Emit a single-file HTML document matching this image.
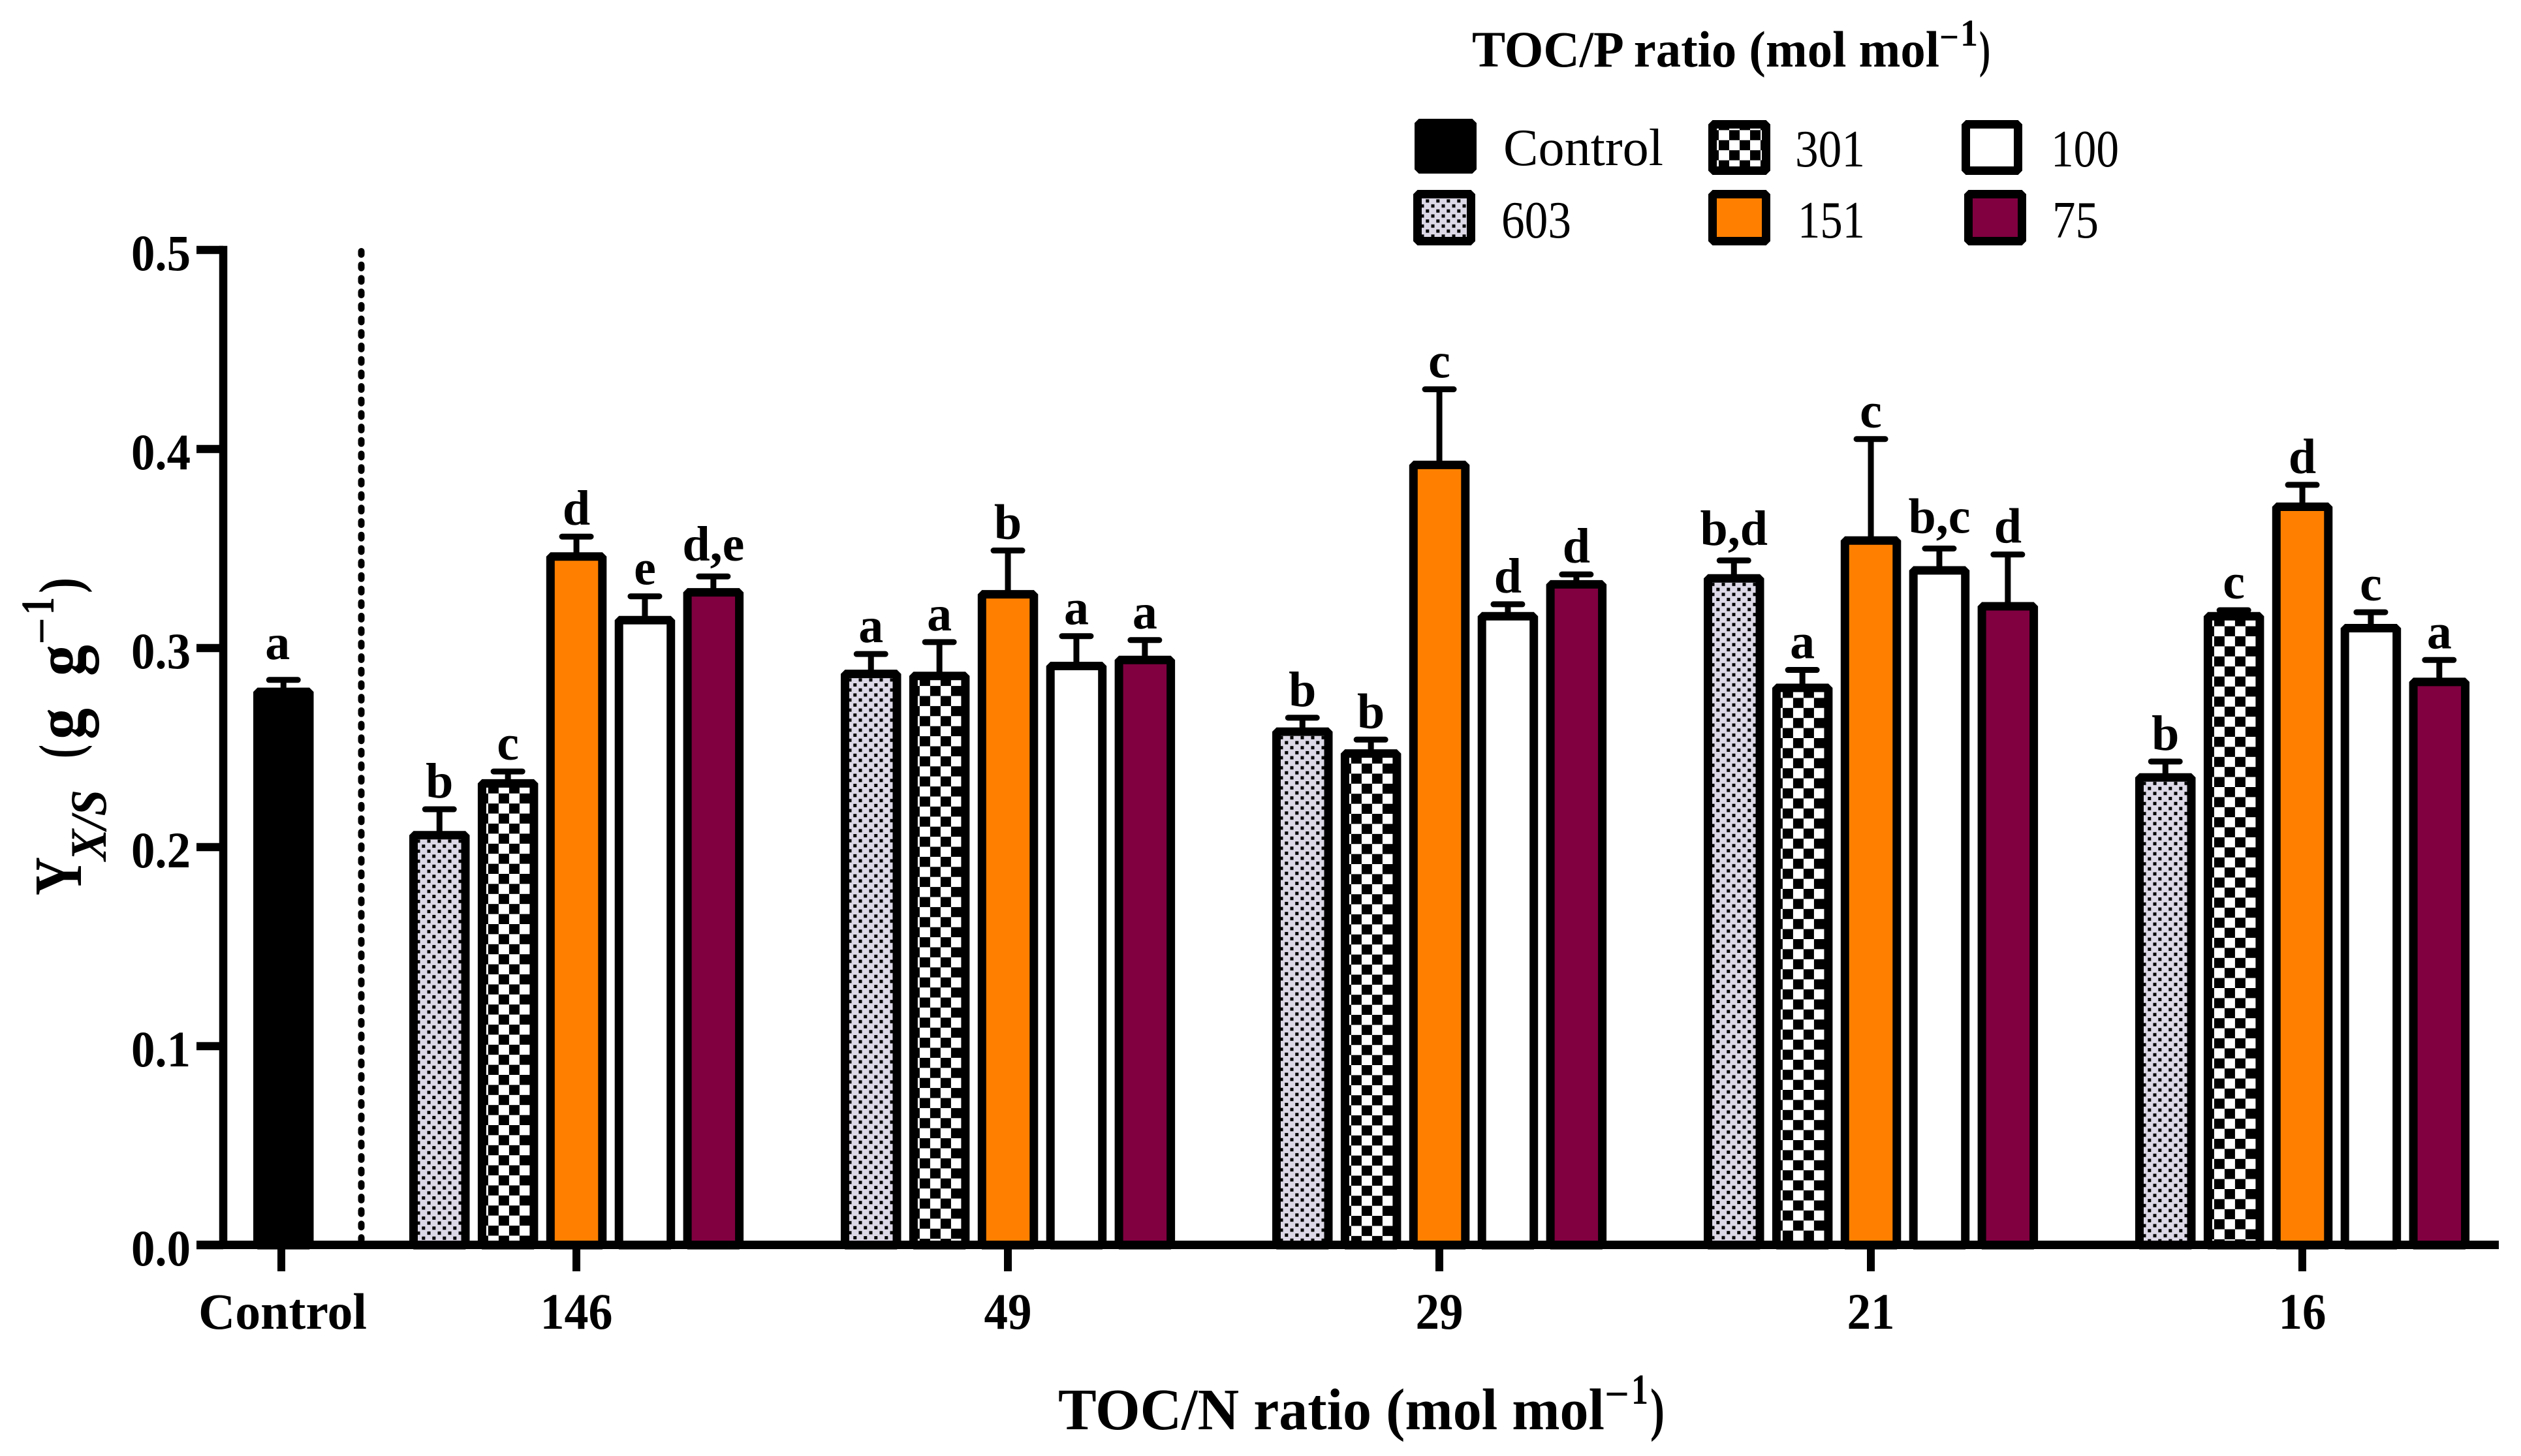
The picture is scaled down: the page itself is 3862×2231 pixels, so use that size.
<!DOCTYPE html>
<html lang="en">
<head>
<meta charset="utf-8">
<title>Biomass yield by TOC/N and TOC/P ratio</title>
<style>
html,body{margin:0;padding:0;background:#fff;width:3862px;height:2231px;overflow:hidden}
svg{display:block}
text{font-family:"Liberation Serif",serif;fill:#000}
.b{font-weight:700}
</style>
</head>
<body>
<svg id="chart" xmlns="http://www.w3.org/2000/svg" width="3862" height="2231" viewBox="0 0 3862 2231">
  <defs>
    <pattern id="dots" patternUnits="userSpaceOnUse" width="16" height="15.4">
      <rect width="16" height="15.4" fill="#DDD8E6"/>
      <rect x="11.5" y="6.7" width="5" height="5" fill="#000"/>
      <rect x="-4.5" y="6.7" width="5" height="5" fill="#000"/>
      <rect x="3.3" y="14.4" width="5" height="5" fill="#000"/>
      <rect x="3.3" y="-1" width="5" height="5" fill="#000"/>
    </pattern>
    <pattern id="checker" patternUnits="userSpaceOnUse" width="32" height="30.8">
      <rect width="32" height="30.8" fill="#fff"/>
      <rect x="16" y="0" width="16" height="15.4" fill="#000"/>
      <rect x="0" y="15.4" width="16" height="15.4" fill="#000"/>
    </pattern>
  </defs>

  <rect x="0" y="0" width="3862" height="2231" fill="#fff"/>

  <g id="plot"></g>

  <line x1="553.5" y1="385" x2="553.5" y2="1900" stroke="#000" stroke-width="10" stroke-linecap="round" stroke-dasharray="5 15.7"/>

  <g>
    <text class="b" x="1621" y="2190" font-size="90" textLength="837" lengthAdjust="spacingAndGlyphs">TOC/N ratio (mol mol</text>
    <text class="b" x="2458" y="2158" font-size="66" textLength="38" lengthAdjust="spacingAndGlyphs">−</text>
    <text class="b" x="2499" y="2151" font-size="66" textLength="26" lengthAdjust="spacingAndGlyphs">1</text>
    <text class="b" x="2528" y="2190" font-size="90" textLength="22" lengthAdjust="spacingAndGlyphs">)</text>
  </g>

  <g>
    <text class="b" transform="translate(124 1372) rotate(-90)" font-size="104" textLength="59" lengthAdjust="spacingAndGlyphs">Y</text>
    <text class="b" font-style="italic" transform="translate(162 1319) rotate(-90)" font-size="78" textLength="109" lengthAdjust="spacingAndGlyphs">X/S</text>
    <text class="b" transform="translate(122 1162) rotate(-90)" font-size="90" textLength="21" lengthAdjust="spacingAndGlyphs">(</text>
    <text class="b" transform="translate(128 1133) rotate(-90)" font-size="108" textLength="48" lengthAdjust="spacingAndGlyphs">g</text>
    <text class="b" transform="translate(128 1036) rotate(-90)" font-size="108" textLength="48" lengthAdjust="spacingAndGlyphs">g</text>
    <text class="b" transform="translate(88 988) rotate(-90)" font-size="72" textLength="42" lengthAdjust="spacingAndGlyphs">−</text>
    <text class="b" transform="translate(82 942) rotate(-90)" font-size="72" textLength="27" lengthAdjust="spacingAndGlyphs">1</text>
    <text class="b" transform="translate(122 909) rotate(-90)" font-size="90" textLength="24" lengthAdjust="spacingAndGlyphs">)</text>
  </g>

  <g>
    <g>
      <text class="b" x="2255" y="102" font-size="78" textLength="716" lengthAdjust="spacingAndGlyphs">TOC/P ratio (mol mol</text>
      <text class="b" x="2971" y="76" font-size="58" textLength="30" lengthAdjust="spacingAndGlyphs">−</text>
      <text class="b" x="3003" y="70" font-size="58" textLength="27" lengthAdjust="spacingAndGlyphs">1</text>
      <text class="b" x="3032" y="102" font-size="78" textLength="17" lengthAdjust="spacingAndGlyphs">)</text>
    </g>
    <g>
      <rect x="2173.5" y="188.5" width="82" height="71" fill="#000" stroke="#000" stroke-width="13" stroke-linejoin="bevel"/>
      <text x="2303" y="253" font-size="80" textLength="245" lengthAdjust="spacingAndGlyphs">Control</text>
    </g>
    <g>
      <g transform="translate(2617 184)">
        <rect x="6.5" y="6.5" width="82" height="71" fill="url(#checker)" stroke="#000" stroke-width="13" stroke-linejoin="bevel"/>
      </g>
      <text x="2750" y="255" font-size="80" textLength="107" lengthAdjust="spacingAndGlyphs">301</text>
    </g>
    <g>
      <rect x="3011.5" y="190.5" width="80" height="71" fill="#fff" stroke="#000" stroke-width="13" stroke-linejoin="bevel"/>
      <text x="3142" y="255" font-size="80" textLength="104" lengthAdjust="spacingAndGlyphs">100</text>
    </g>
    <g>
      <g transform="translate(2165 291)">
        <rect x="6.5" y="6.5" width="82" height="72" fill="url(#dots)" stroke="#000" stroke-width="13" stroke-linejoin="bevel"/>
      </g>
      <text x="2300" y="364" font-size="80" textLength="107" lengthAdjust="spacingAndGlyphs">603</text>
    </g>
    <g>
      <rect x="2623.5" y="297.5" width="82" height="72" fill="#FF8000" stroke="#000" stroke-width="13" stroke-linejoin="bevel"/>
      <text x="2754" y="364" font-size="80" textLength="103" lengthAdjust="spacingAndGlyphs">151</text>
    </g>
    <g>
      <rect x="3015.5" y="297.5" width="82" height="72" fill="#800040" stroke="#000" stroke-width="13" stroke-linejoin="bevel"/>
      <text x="3144" y="364" font-size="80" textLength="71" lengthAdjust="spacingAndGlyphs">75</text>
    </g>
  </g>
</svg>

<script>
// ---- chart data ----
const groupLabels = ['146', '49', '29', '21', '16'];
const seriesNames = ['603', '301', '151', '100', '75'];
const yTickValues = [0.0, 0.1, 0.2, 0.3, 0.4, 0.5];
const yTickLabels = ['0.0', '0.1', '0.2', '0.3', '0.4', '0.5'];

const controlValue = 0.278;
const controlError = 0.284;
const controlSig = 'a';

const series603 = [0.206, 0.287, 0.258, 0.335, 0.235];
const series301 = [0.232, 0.286, 0.247, 0.280, 0.316];
const series151 = [0.346, 0.327, 0.392, 0.354, 0.371];
const series100 = [0.314, 0.291, 0.316, 0.339, 0.310];
const series75  = [0.328, 0.294, 0.332, 0.321, 0.283];

const error603 = [0.219, 0.297, 0.265, 0.344, 0.243];
const error301 = [0.238, 0.303, 0.254, 0.289, 0.319];
const error151 = [0.356, 0.349, 0.430, 0.405, 0.382];
const error100 = [0.326, 0.306, 0.322, 0.350, 0.318];
const error75  = [0.336, 0.304, 0.337, 0.347, 0.294];

const sig603 = ['b', 'a', 'b', 'b,d', 'b'];
const sig301 = ['c', 'a', 'b', 'a', 'c'];
const sig151 = ['d', 'b', 'c', 'c', 'd'];
const sig100 = ['e', 'a', 'd', 'b,c', 'c'];
const sig75  = ['d,e', 'a', 'd', 'd', 'a'];

// ---- axis functions ----
const Y_ZERO = 1908;
const Y_PER_UNIT = 3050;
function yScale(v) { return Y_ZERO - v * Y_PER_UNIT; }
const GROUP_START = 627, GROUP_PITCH = 661, BAR_PITCH = 104.9, BAR_WIDTH = 92.5, STROKE = 13;
function barLeft(groupIndex, seriesIndex) { return GROUP_START + GROUP_PITCH * groupIndex + BAR_PITCH * seriesIndex; }
function groupTick(groupIndex) { return 883 + GROUP_PITCH * groupIndex; }

const NS = 'http://www.w3.org/2000/svg';
const plot = document.getElementById('plot');
function make(tag, attrs, parent) {
  const el = document.createElementNS(NS, tag);
  for (const k in attrs) el.setAttribute(k, attrs[k]);
  (parent || plot).appendChild(el);
  return el;
}

function drawBar(left, value, err, sig, fill, name, extraLift, labelShift) {
  const cx = left + BAR_WIDTH / 2;
  const group = make('g', {});
  
  

  const stem = make('line', { x1: cx, x2: cx, y1: yScale(value), y2: yScale(err), stroke: '#000', 'stroke-width': 9 }, group);
  
  

  const cap = make('line', { x1: cx - 22, x2: cx + 22, y1: yScale(err), y2: yScale(err), stroke: '#000', 'stroke-width': 9, 'stroke-linecap': 'round' }, group);
  
  

  const holder = make('g', { transform: 'translate(' + left + ' ' + yScale(value) + ')' }, group);
  const rect = make('rect', {
    x: STROKE / 2, y: 0,
    width: BAR_WIDTH - STROKE,
    height: Y_ZERO - yScale(value),
    fill: fill, stroke: '#000', 'stroke-width': STROKE, 'stroke-linejoin': 'bevel'
  }, holder);
  
  

  const lift = (sig.indexOf(',') >= 0 ? 24 : 18) + (extraLift || 0);
  const label = make('text', { x: cx + (labelShift || 0), y: yScale(err) - lift, 'text-anchor': 'middle', 'font-size': 76, class: 'b' }, group);
  label.textContent = sig;
  
  
}

// control bar
drawBar(388, controlValue, controlError, controlSig, '#000', 'bar-control', 14, -9);

// grouped bars
const seriesValues = [series603, series301, series151, series100, series75];
const seriesErrors = [error603, error301, error151, error100, error75];
const seriesSigs = [sig603, sig301, sig151, sig100, sig75];
const seriesFills = ['url(#dots)', 'url(#checker)', '#FF8000', '#fff', '#800040'];
groupLabels.forEach(function (groupLabel, g) {
  seriesNames.forEach(function (seriesName, s) {
    drawBar(barLeft(g, s), seriesValues[s][g], seriesErrors[s][g], seriesSigs[s][g], seriesFills[s], 'bar-' + groupLabel + '-' + seriesName, 0, 0);
  });
});

// y axis
const yAxis = make('line', { x1: 342, x2: 342, y1: yScale(0.5) - 6.25, y2: Y_ZERO + 6, stroke: '#000', 'stroke-width': 12.5 });



yTickValues.forEach(function (v, i) {
  const tick = make('line', { x1: 301, x2: 342, y1: yScale(v), y2: yScale(v), stroke: '#000', 'stroke-width': 12.5 });
  
  
  const label = make('text', { x: 292, y: yScale(v) + 31, 'text-anchor': 'end', 'font-size': 78, class: 'b', textLength: 91, lengthAdjust: 'spacingAndGlyphs' });
  label.textContent = yTickLabels[i];
  
  
});

// x axis
const xAxis = make('line', { x1: 301, x2: 3828, y1: Y_ZERO - 0.5, y2: Y_ZERO - 0.5, stroke: '#000', 'stroke-width': 13 });



const controlTick = make('line', { x1: 431, x2: 431, y1: Y_ZERO, y2: 1948, stroke: '#000', 'stroke-width': 12 });



const controlLabel = make('text', { x: 433, y: 2036, 'text-anchor': 'middle', 'font-size': 78, class: 'b', textLength: 258, lengthAdjust: 'spacingAndGlyphs' });
controlLabel.textContent = 'Control';



groupLabels.forEach(function (groupLabel, g) {
  const tick = make('line', { x1: groupTick(g), x2: groupTick(g), y1: Y_ZERO, y2: 1948, stroke: '#000', 'stroke-width': 12 });
  
  
  const label = make('text', { x: groupTick(g), y: 2036, 'text-anchor': 'middle', 'font-size': 78, class: 'b', textLength: groupLabel.length === 3 ? 111 : 73, lengthAdjust: 'spacingAndGlyphs' });
  label.textContent = groupLabel;
  
  
});
</script>
</body>
</html>
